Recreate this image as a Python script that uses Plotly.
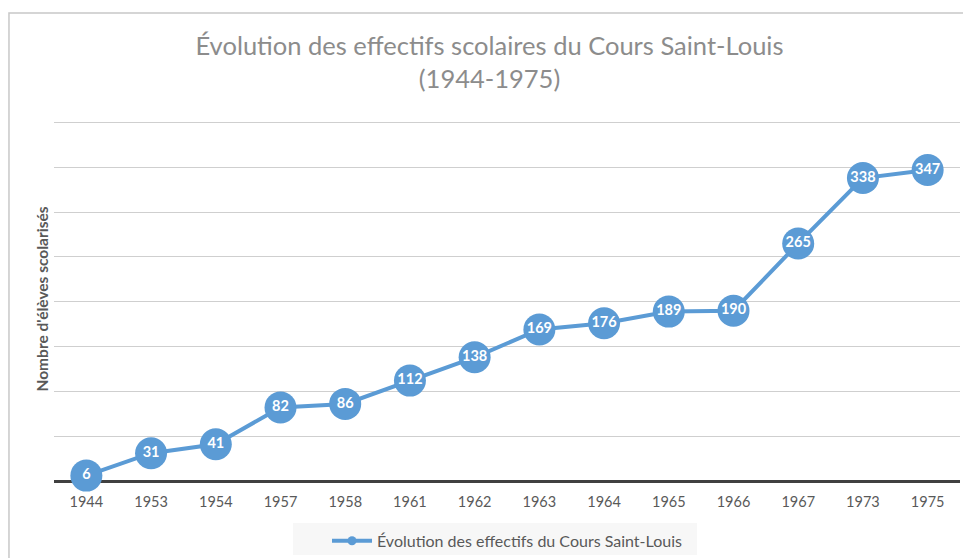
import plotly.graph_objects as go

years = ["1944", "1953", "1954", "1957", "1958", "1961", "1962", "1963",
         "1964", "1965", "1966", "1967", "1973", "1975"]
effectifs = [6, 31, 41, 82, 86, 112, 138, 169, 176, 189, 190, 265, 338, 347]

series_name = "Évolution des effectifs du Cours Saint-Louis"
title_text = "Évolution des effectifs scolaires du Cours Saint-Louis<br>(1944-1975)"
y_title = "Nombre d'élèves scolarisés"

blue = "#5B9BD5"
font_family = "Lato, 'Open Sans', sans-serif"

fig = go.Figure()
fig.add_trace(go.Scatter(
    x=years, y=effectifs, name=series_name,
    mode="lines+markers+text",
    line=dict(color=blue, width=4),
    marker=dict(color=blue, size=32, line=dict(width=0)),
    texttemplate="<b>%{y}</b>",
    textposition="middle center",
    textfont=dict(color="white", size=14.5, family=font_family),
    cliponaxis=False,
    showlegend=False,
    legendgroup="s",
))
# legend entry (small marker like the original legend key)
fig.add_trace(go.Scatter(
    x=[None], y=[None], name=series_name,
    mode="lines+markers",
    line=dict(color=blue, width=4),
    marker=dict(color=blue, size=9),
    showlegend=True,
    legendgroup="s",
))

fig.update_layout(
    width=963, height=550,
    margin=dict(l=46, r=11, t=110, b=77, autoexpand=False),
    paper_bgcolor="white", plot_bgcolor="white",
    font=dict(family=font_family, color="#595959"),
    title=dict(text=title_text, x=0.5, xanchor="center", y=0.9145, yanchor="top",
               font=dict(size=25.5, color="#8c8c8c", family=font_family)),
    xaxis=dict(type="category", showgrid=False, zeroline=False, showline=False,
               ticks="outside", ticklen=8, tickcolor="rgba(0,0,0,0)",
               tickfont=dict(size=14.5, color="#595959"), automargin=False,
               range=[-0.5, len(years) - 0.5],
               categoryorder="array", categoryarray=years),
    yaxis=dict(range=[0, 405], tickvals=[0, 50, 100, 150, 200, 250, 300, 350, 400],
               showticklabels=False, ticks="", automargin=False,
               gridcolor="#cfcfcf", gridwidth=1,
               zeroline=True, zerolinecolor="#404040", zerolinewidth=3),
    legend=dict(orientation="h", x=0.5, xanchor="center", y=-0.118, yanchor="top",
                bgcolor="rgba(0,0,0,0)", font=dict(size=16, color="#595959"),
                itemwidth=40),
    annotations=[dict(text="<b>" + y_title + "</b>", xref="paper", yref="paper",
                      x=0, y=0.5, xanchor="center", yanchor="middle", xshift=-13,
                      textangle=-90, showarrow=False,
                      font=dict(size=15.5, color="#595959"))],
    shapes=[
        dict(type="rect", xref="paper", yref="paper",
             x0=-0.0497, x1=1.05, y0=-0.4, y1=1.289,
             line=dict(color="#c8c8c8", width=1.5), fillcolor="rgba(0,0,0,0)",
             layer="below"),
        dict(type="rect", xref="paper", yref="paper",
             x0=0.2638, x1=0.7097, y0=-0.2039, y1=-0.1157,
             line=dict(width=0), fillcolor="#f7f7f7", layer="below"),
    ],
)

fig.write_html("out.html")
